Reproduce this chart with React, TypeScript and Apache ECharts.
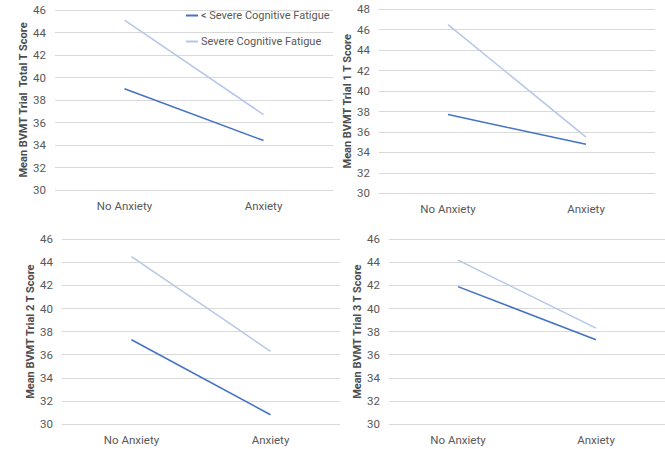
import React, { useEffect, useRef } from "react";
import * as echarts from "echarts";

const categories = ["No Anxiety", "Anxiety"];
const seriesNames = ["< Severe Cognitive Fatigue", "Severe Cognitive Fatigue"];

const totalLow = [39.0, 34.4];
const totalSevere = [45.1, 36.7];
const trial1Low = [37.7, 34.8];
const trial1Severe = [46.5, 35.5];
const trial2Low = [37.3, 30.8];
const trial2Severe = [44.5, 36.3];
const trial3Low = [41.9, 37.3];
const trial3Severe = [44.2, 38.3];

const yTitles = [
  "Mean BVMT Trial  Total T Score",
  "Mean BVMT Trial 1 T Score",
  "Mean BVMT Trial 2 T Score",
  "Mean BVMT Trial 3 T Score",
];
const yMins = [30, 30, 30, 30];
const yMaxs = [46, 48, 46, 46];

const DARK = "#4472C4";
const LIGHT = "#B4C7E7";
const TEXT = "#595959";
const FONT = "Roboto, 'Open Sans', sans-serif";

export default function App() {
  const ref = useRef<HTMLDivElement>(null);
  useEffect(() => {
    if (!ref.current) return;
    const chart = echarts.init(ref.current, undefined, { renderer: "svg" });
    const grids = [
      { left: 55, top: 10, width: 278, height: 180 },
      { left: 379, top: 9.3, width: 276, height: 184 },
      { left: 62, top: 239.3, width: 278, height: 184.7 },
      { left: 389, top: 239.3, width: 276, height: 184.7 },
    ];
    const lows = [totalLow, trial1Low, trial2Low, trial3Low];
    const severes = [totalSevere, trial1Severe, trial2Severe, trial3Severe];
    const xAxis = grids.map((_, i) => ({
      type: "category",
      gridIndex: i,
      data: categories,
      boundaryGap: true,
      axisLine: { show: false },
      axisTick: { show: false },
      axisLabel: { color: TEXT, fontSize: 11.5, fontFamily: FONT, margin: 10 },
    }));
    const yAxis = grids.map((_, i) => ({
      type: "value",
      gridIndex: i,
      min: yMins[i],
      max: yMaxs[i],
      interval: 2,
      name: yTitles[i],
      nameLocation: "middle",
      nameRotate: 90,
      nameGap: 26,
      nameTextStyle: { color: "#4D4D4D", fontSize: 11, fontWeight: "bold", fontFamily: FONT },
      axisLine: { show: false },
      axisTick: { show: false },
      axisLabel: { color: TEXT, fontSize: 11.5, fontFamily: FONT, margin: 9 },
      splitLine: { lineStyle: { color: "#D9D9D9", width: 1 } },
    }));
    const series: any[] = [];
    grids.forEach((_, i) => {
      series.push({
        name: seriesNames[0],
        type: "line",
        xAxisIndex: i,
        yAxisIndex: i,
        data: lows[i],
        symbol: "none",
        lineStyle: { color: DARK, width: 1.5 },
        itemStyle: { color: DARK },
      });
      series.push({
        name: seriesNames[1],
        type: "line",
        xAxisIndex: i,
        yAxisIndex: i,
        data: severes[i],
        symbol: "none",
        lineStyle: { color: LIGHT, width: 1.5 },
        itemStyle: { color: LIGHT },
      });
    });
    chart.setOption({
      animation: false,
      backgroundColor: "#FFFFFF",
      grid: grids,
      xAxis,
      yAxis,
      series,
      legend: {
        data: seriesNames,
        orient: "vertical",
        left: 181,
        top: 5,
        itemGap: 15,
        itemWidth: 12,
        itemHeight: 2,
        icon: "rect",
        textStyle: { color: TEXT, fontSize: 11, fontFamily: FONT, padding: [0, 0, 0, -2] },
      },
    });
    return () => chart.dispose();
  }, []);
  return <div ref={ref} style={{ width: 665, height: 449, position: "absolute", left: 0, top: 0 }} />;
}
